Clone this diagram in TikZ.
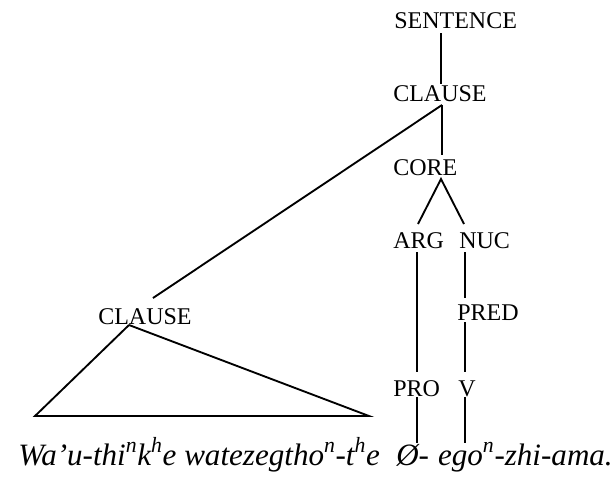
\documentclass[tikz,border=0pt]{standalone}
\usepackage{fontspec}
\setmainfont{Liberation Serif}
\begin{document}
\begin{tikzpicture}[x=0.75pt,y=-0.75pt,
  lab/.style={anchor=base west,inner sep=0pt,font=\fontsize{18pt}{20pt}\selectfont},
  gl/.style={inner sep=0pt,font=\fontsize{23.3pt}{26pt}\selectfont\itshape},
  edge/.style={line width=1.4pt}]
\useasboundingbox (0,0) rectangle (616,479);
\node[lab] (sent) at (394,28) {SENTENCE};
\node[lab] (cl1) at (393,101) {CLAUSE};
\node[lab] (core) at (393,175) {CORE};
\node[lab] (arg) at (393,248) {ARG};
\node[lab] (nuc) at (459,248) {NUC};
\node[lab] (pred) at (457,320) {PRED};
\node[lab] (pro) at (393,396) {PRO};
\node[lab] (v) at (458,396) {V};
\node[lab] (cl2) at (98,324) {CLAUSE};
\node[gl,anchor=base west] (glossA) at (18,465)
  {Wa’u-thi\textsuperscript{n}k\textsuperscript{h}e watezegtho\textsuperscript{n}-t\textsuperscript{h}e};
\node[gl,anchor=base west] (glossB) at (396,465) {Ø-};
\node[gl,anchor=base east] (glossC) at (613,465) {ego\textsuperscript{n}-zhi-ama.};
% coordinates
\coordinate (sA) at (441,33);
\coordinate (sB) at (441,84);
\coordinate (cA) at (442,105);
\coordinate (cB) at (442,155);
\coordinate (cC) at (153,298);
\coordinate (oA) at (441,179);
\coordinate (oL) at (418,224);
\coordinate (oR) at (464,224);
\coordinate (aA) at (417,252);
\coordinate (aB) at (417,372);
\coordinate (nA) at (465,252);
\coordinate (nB) at (465,298);
\coordinate (pA) at (465,322);
\coordinate (pB) at (465,372);
\coordinate (rA) at (417,397);
\coordinate (rB) at (417,443);
\coordinate (vA) at (465,397);
\coordinate (vB) at (465,443);
\coordinate (tT) at (129,325);
\coordinate (tL) at (35,416);
\coordinate (tR) at (369,416);
% connectors
\draw[edge] (sA) -- (sB);
\draw[edge] (cA) -- (cB);
\draw[edge] (cA) -- (cC);
\draw[edge] (oL) -- (oA) -- (oR);
\draw[edge] (aA) -- (aB);
\draw[edge] (nA) -- (nB);
\draw[edge] (pA) -- (pB);
\draw[edge] (rA) -- (rB);
\draw[edge] (vA) -- (vB);
\draw[edge] (tT) -- (tL) -- (tR) -- (tT);
\end{tikzpicture}
\end{document}
